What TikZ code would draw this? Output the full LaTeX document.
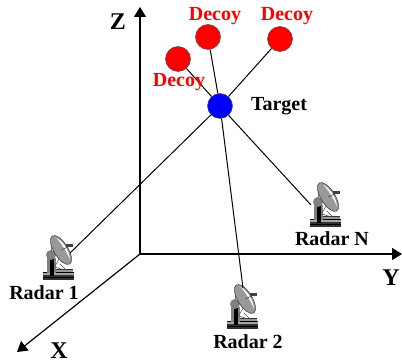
\documentclass[tikz,border=0pt]{standalone}
\usepackage{fontspec}
\setmainfont{Liberation Serif}
\usetikzlibrary{arrows.meta}

\begin{document}
\begin{tikzpicture}[
  x=1pt,y=-1pt,
  axisline/.style={-{Triangle[length=10pt,width=12pt]},line width=1.2pt},
  los/.style={line width=1pt},
  decoyball/.style={circle,draw=black!70,line width=0.5pt,fill=red,minimum size=25pt,inner sep=0pt},
  targetball/.style={circle,draw=black!70,line width=0.5pt,fill=blue,minimum size=25pt,inner sep=0pt},
  decoylabel/.style={text=red,font=\fontsize{20}{20}\selectfont\bfseries,inner sep=0pt},
  blacklabel/.style={font=\fontsize{20}{20}\selectfont\bfseries,inner sep=0pt},
  axislabel/.style={font=\fontsize{24}{24}\selectfont\bfseries,inner sep=0pt},
  radar/.pic={
    % base
    \fill[black!80] (-15,17) rectangle (16,22);
    \fill[black!35] (-15,14) rectangle (16,17);
    \draw[black,line width=0.6pt] (-15,14) -- (16,14) (-15,19) -- (16,19);
    \fill[black!40] (-3,11) rectangle (15,14);
    \draw[black!80,line width=0.8pt] (-3,11) -- (15,11);
    % mast
    \fill[black!50] (-11,0) rectangle (-2,15);
    \fill[black] (-8.5,1) rectangle (-4.5,18);
    \fill[black!50] (-7,-3) circle (5);
    % struts
    \draw[black!70,line width=0.5pt] (-3,8) -- (3,-2) (-3,9) -- (6,12) (2,6) -- (8,12) (-7,-6) -- (-5,-20);
    % dish
    \begin{scope}[shift={(3,-8)},rotate=-58]
      \draw[black!75,fill=black!40,line width=0.6pt] (0,0) ellipse [x radius=16.5,y radius=7];
      \fill[white] (-13,-2.5) .. controls (-5,-6.5) and (5,-6.5) .. (13,-2.5) .. controls (5,-4) and (-5,-4) .. (-13,-2.5);
    \end{scope}
    \draw[black!70,line width=0.6pt] (3,-8) -- (12,-12);
    \fill[black!75] (8,-14) rectangle (15,-10.5);
  }
]
\useasboundingbox (0,0) rectangle (402,363);

% axes
\coordinate (origin) at (140,254);
\coordinate (xtip) at (17,352);
\coordinate (ytip) at (402,254);
\coordinate (ztip) at (140,7);
\draw[axisline] (origin) -- (xtip);
\draw[axisline] (origin) -- (ytip);
\draw[axisline] (origin) -- (ztip);
\node[axislabel] (xlabel) at (59,351) {X};
\node[axislabel] (ylabel) at (391,278) {Y};
\node[axislabel] (zlabel) at (118,22) {Z};

% radars
\pic at (58,258) {radar};
\pic at (325,205) {radar};
\pic at (242,307) {radar};
\coordinate (radar1) at (70,253);
\coordinate (radar2) at (243,288);
\coordinate (radarN) at (311,205);
\node[blacklabel] (label1) at (44,293) {Radar 1};
\node[blacklabel] (label2) at (248,342) {Radar 2};
\node[blacklabel] (labelN) at (332,239) {Radar N};

% target and decoys
\node[decoyball] (decoy1) at (178,59) {};
\node[decoyball] (decoy2) at (208,37) {};
\node[decoyball] (decoy3) at (280,39) {};
\node[targetball] (target) at (220,106) {};
\draw[los] (target) -- (decoy1);
\draw[los] (target) -- (decoy2);
\draw[los] (target) -- (decoy3);
\draw[los] (target) -- (radar1);
\draw[los] (target) -- (radar2);
\draw[los] (target) -- (radarN);
\node[decoylabel] (dlabel1) at (179,82) {Decoy};
\node[decoylabel] (dlabel2) at (215,16) {Decoy};
\node[decoylabel] (dlabel3) at (287,16) {Decoy};
\node[blacklabel] (tlabel) at (279,106) {Target};
\end{tikzpicture}
\end{document}
